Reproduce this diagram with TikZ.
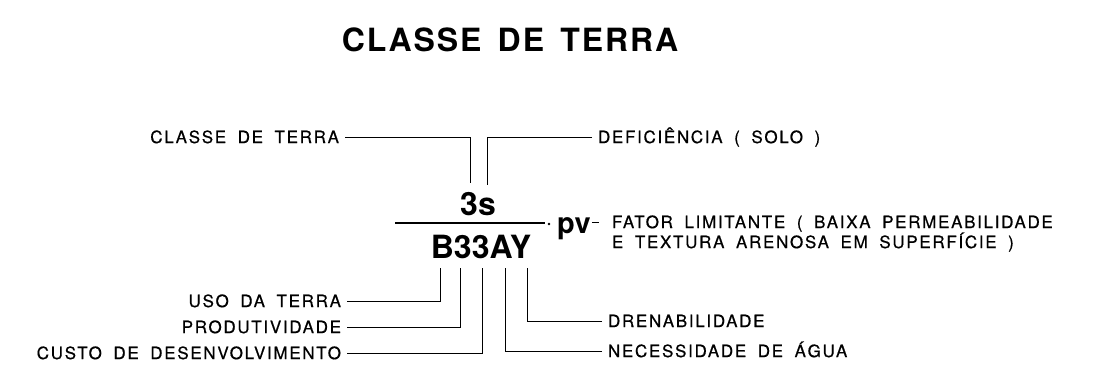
\documentclass[tikz,border=0pt]{standalone}
\usepackage{fontspec}
\setsansfont{TeX Gyre Heros}
\newfontfamily\lblfont[LetterSpace=10,WordSpace=1.8,FakeBold=0.6]{TeX Gyre Heros}
\newfontfamily\titlefont[LetterSpace=6,WordSpace=1.5]{TeX Gyre Heros}

\tikzset{
  lbl/.style={font=\lblfont\fontsize{17}{20}\selectfont, inner sep=0pt, outer sep=6pt,
    text height=12.2pt, text depth=0pt},
  sym/.style={font=\sffamily\bfseries\fontsize{32}{36}\selectfont, inner sep=0pt},
  lead/.style={line width=1pt}
}

\begin{document}
\begin{tikzpicture}[x=1pt, y=-1pt]
\useasboundingbox (0,0) rectangle (1094,378);

% title
\node[font=\titlefont\bfseries\fontsize{32}{38}\selectfont, inner sep=0pt] (title) at (510,40) {CLASSE DE TERRA};

% symbol
\node[sym] (num) at (478,204) {3s};
\node[sym] (den) at (481,247) {B33AY};
\coordinate (fracL) at (395,223);
\coordinate (fracR) at (545,223);
\draw[line width=2pt] (fracL) -- (fracR);
\fill (549,224) circle (1.4pt);
\node[font=\sffamily\bfseries\fontsize{29}{32}\selectfont, inner sep=0pt, outer sep=1pt, anchor=base west] (pv) at (556,233) {pv};

% upper labels
\node[lbl, anchor=east] (clsLbl) at (345,137) {CLASSE DE TERRA};
\node[lbl, anchor=west] (defLbl) at (592,137) {DEFICIÊNCIA ( SOLO )};
\coordinate (c3) at (470,183);
\coordinate (cs) at (487,185);
\draw[lead] (clsLbl.east) -| (c3);
\draw[lead] (defLbl.west) -| (cs);

% limiting factor
\node[lbl, anchor=west, outer sep=13pt] (fator1) at (599,222) {FATOR LIMITANTE ( BAIXA PERMEABILIDADE};
\node[lbl, anchor=west] (fator2) at (606,242) {E TEXTURA ARENOSA EM SUPERFÍCIE )};
\draw[lead] (fator1.west -| pv.east) -- (fator1.west);

% lower labels
\coordinate (t1) at (440,268);
\coordinate (t2) at (460,268);
\coordinate (t3) at (482,268);
\coordinate (t4) at (505,268);
\coordinate (t5) at (527,268);
\node[lbl, anchor=east] (uso) at (347,301) {USO DA TERRA};
\node[lbl, anchor=east] (prod) at (347,327) {PRODUTIVIDADE};
\node[lbl, anchor=east] (custo) at (347,353) {CUSTO DE DESENVOLVIMENTO};
\node[lbl, anchor=west] (dren) at (602,321) {DRENABILIDADE};
\node[lbl, anchor=west] (nec) at (602,351) {NECESSIDADE DE ÁGUA};
\draw[lead] (uso.east) -| (t1);
\draw[lead] (prod.east) -| (t2);
\draw[lead] (custo.east) -| (t3);
\draw[lead] (nec.west) -| (t4);
\draw[lead] (dren.west) -| (t5);

\end{tikzpicture}
\end{document}
